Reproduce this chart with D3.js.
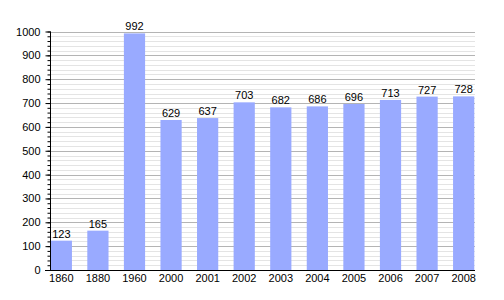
<html>
<script src="https://d3js.org/d3.v7.min.js"></script>
<style>
	body { margin: 0; background: #fff; }
	text { font-family: "Liberation Sans", Arial, sans-serif; }
</style>
<body>
	<svg id="chart" width="504" height="300"></svg>
	<script>
		// data
		const years = ["1860", "1880", "1960", "2000", "2001", "2002", "2003", "2004", "2005", "2006", "2007", "2008"]
		const population = [123, 165, 992, 629, 637, 703, 682, 686, 696, 713, 727, 728]
		const yTicks = [0, 100, 200, 300, 400, 500, 600, 700, 800, 900, 1000]

		const plotLeft = 50, plotRight = 475, plotTop = 31.5, plotBottom = 270

		const svg = d3.select("#chart")

		const x = d3.scaleBand()
			.domain(years)
			.range([plotLeft, plotRight])
			.paddingInner(0.42)
			.paddingOuter(0.02)

		const y = d3.scaleLinear()
			.domain([0, 1000])
			.range([plotBottom, plotTop])

		// minor grid every 20
		svg.append("g")
			.selectAll("line")
			.data(d3.range(20, 1001, 20).filter(v => v % 100 != 0))
			.enter().append("line")
			.attr("x1", plotLeft).attr("x2", plotRight)
			.attr("y1", d => Math.round(y(d)) + 0.5)
			.attr("y2", d => Math.round(y(d)) + 0.5)
			.attr("stroke", "#e4e4e4")

		// major grid every 100
		svg.append("g")
			.selectAll("line")
			.data(yTicks.slice(1))
			.enter().append("line")
			.attr("x1", plotLeft).attr("x2", plotRight)
			.attr("y1", d => Math.round(y(d)) + 0.5)
			.attr("y2", d => Math.round(y(d)) + 0.5)
			.attr("stroke", "#b4b4b4")

		// bars
		svg.append("g")
			.selectAll("rect")
			.data(population)
			.enter().append("rect")
			.attr("x", (d, i) => x(years[i]))
			.attr("y", d => y(d))
			.attr("width", x.bandwidth())
			.attr("height", d => plotBottom - y(d))
			.attr("fill", "#99aaff")

		// value labels
		svg.append("g")
			.selectAll("text")
			.data(population)
			.enter().append("text")
			.attr("x", (d, i) => x(years[i]) + x.bandwidth() / 2)
			.attr("y", d => y(d) - 3)
			.attr("text-anchor", "middle")
			.style("font-size", "11px")
			.attr("fill", "#000")
			.text(d => d)

		// y axis minor ticks
		svg.append("g")
			.attr("transform", "translate(" + (plotLeft + 0.5) + ",0)")
			.call(d3.axisLeft(y).tickValues(d3.range(0, 1001, 20)).tickSize(3).tickFormat(""))
			.call(g => g.select(".domain").remove())

		// y axis major ticks + labels
		svg.append("g")
			.attr("transform", "translate(" + (plotLeft + 0.5) + ",0)")
			.call(d3.axisLeft(y).tickValues(yTicks).tickSize(5).tickPadding(5).tickFormat(d3.format("d")))
			.call(g => g.selectAll("text").style("font-size", "11px").attr("fill", "#000"))
			.call(g => g.select(".domain").attr("d", "M0," + plotTop + "V" + plotBottom))

		// x axis
		svg.append("g")
			.attr("transform", "translate(0," + (plotBottom + 0.5) + ")")
			.call(d3.axisBottom(x).tickSize(0).tickPadding(4))
			.call(g => g.selectAll("text").style("font-size", "11px").attr("fill", "#000"))
			.call(g => g.select(".domain").attr("d", "M" + (plotLeft - 5) + ",0H" + plotRight))
	</script>
</body>
</html>
